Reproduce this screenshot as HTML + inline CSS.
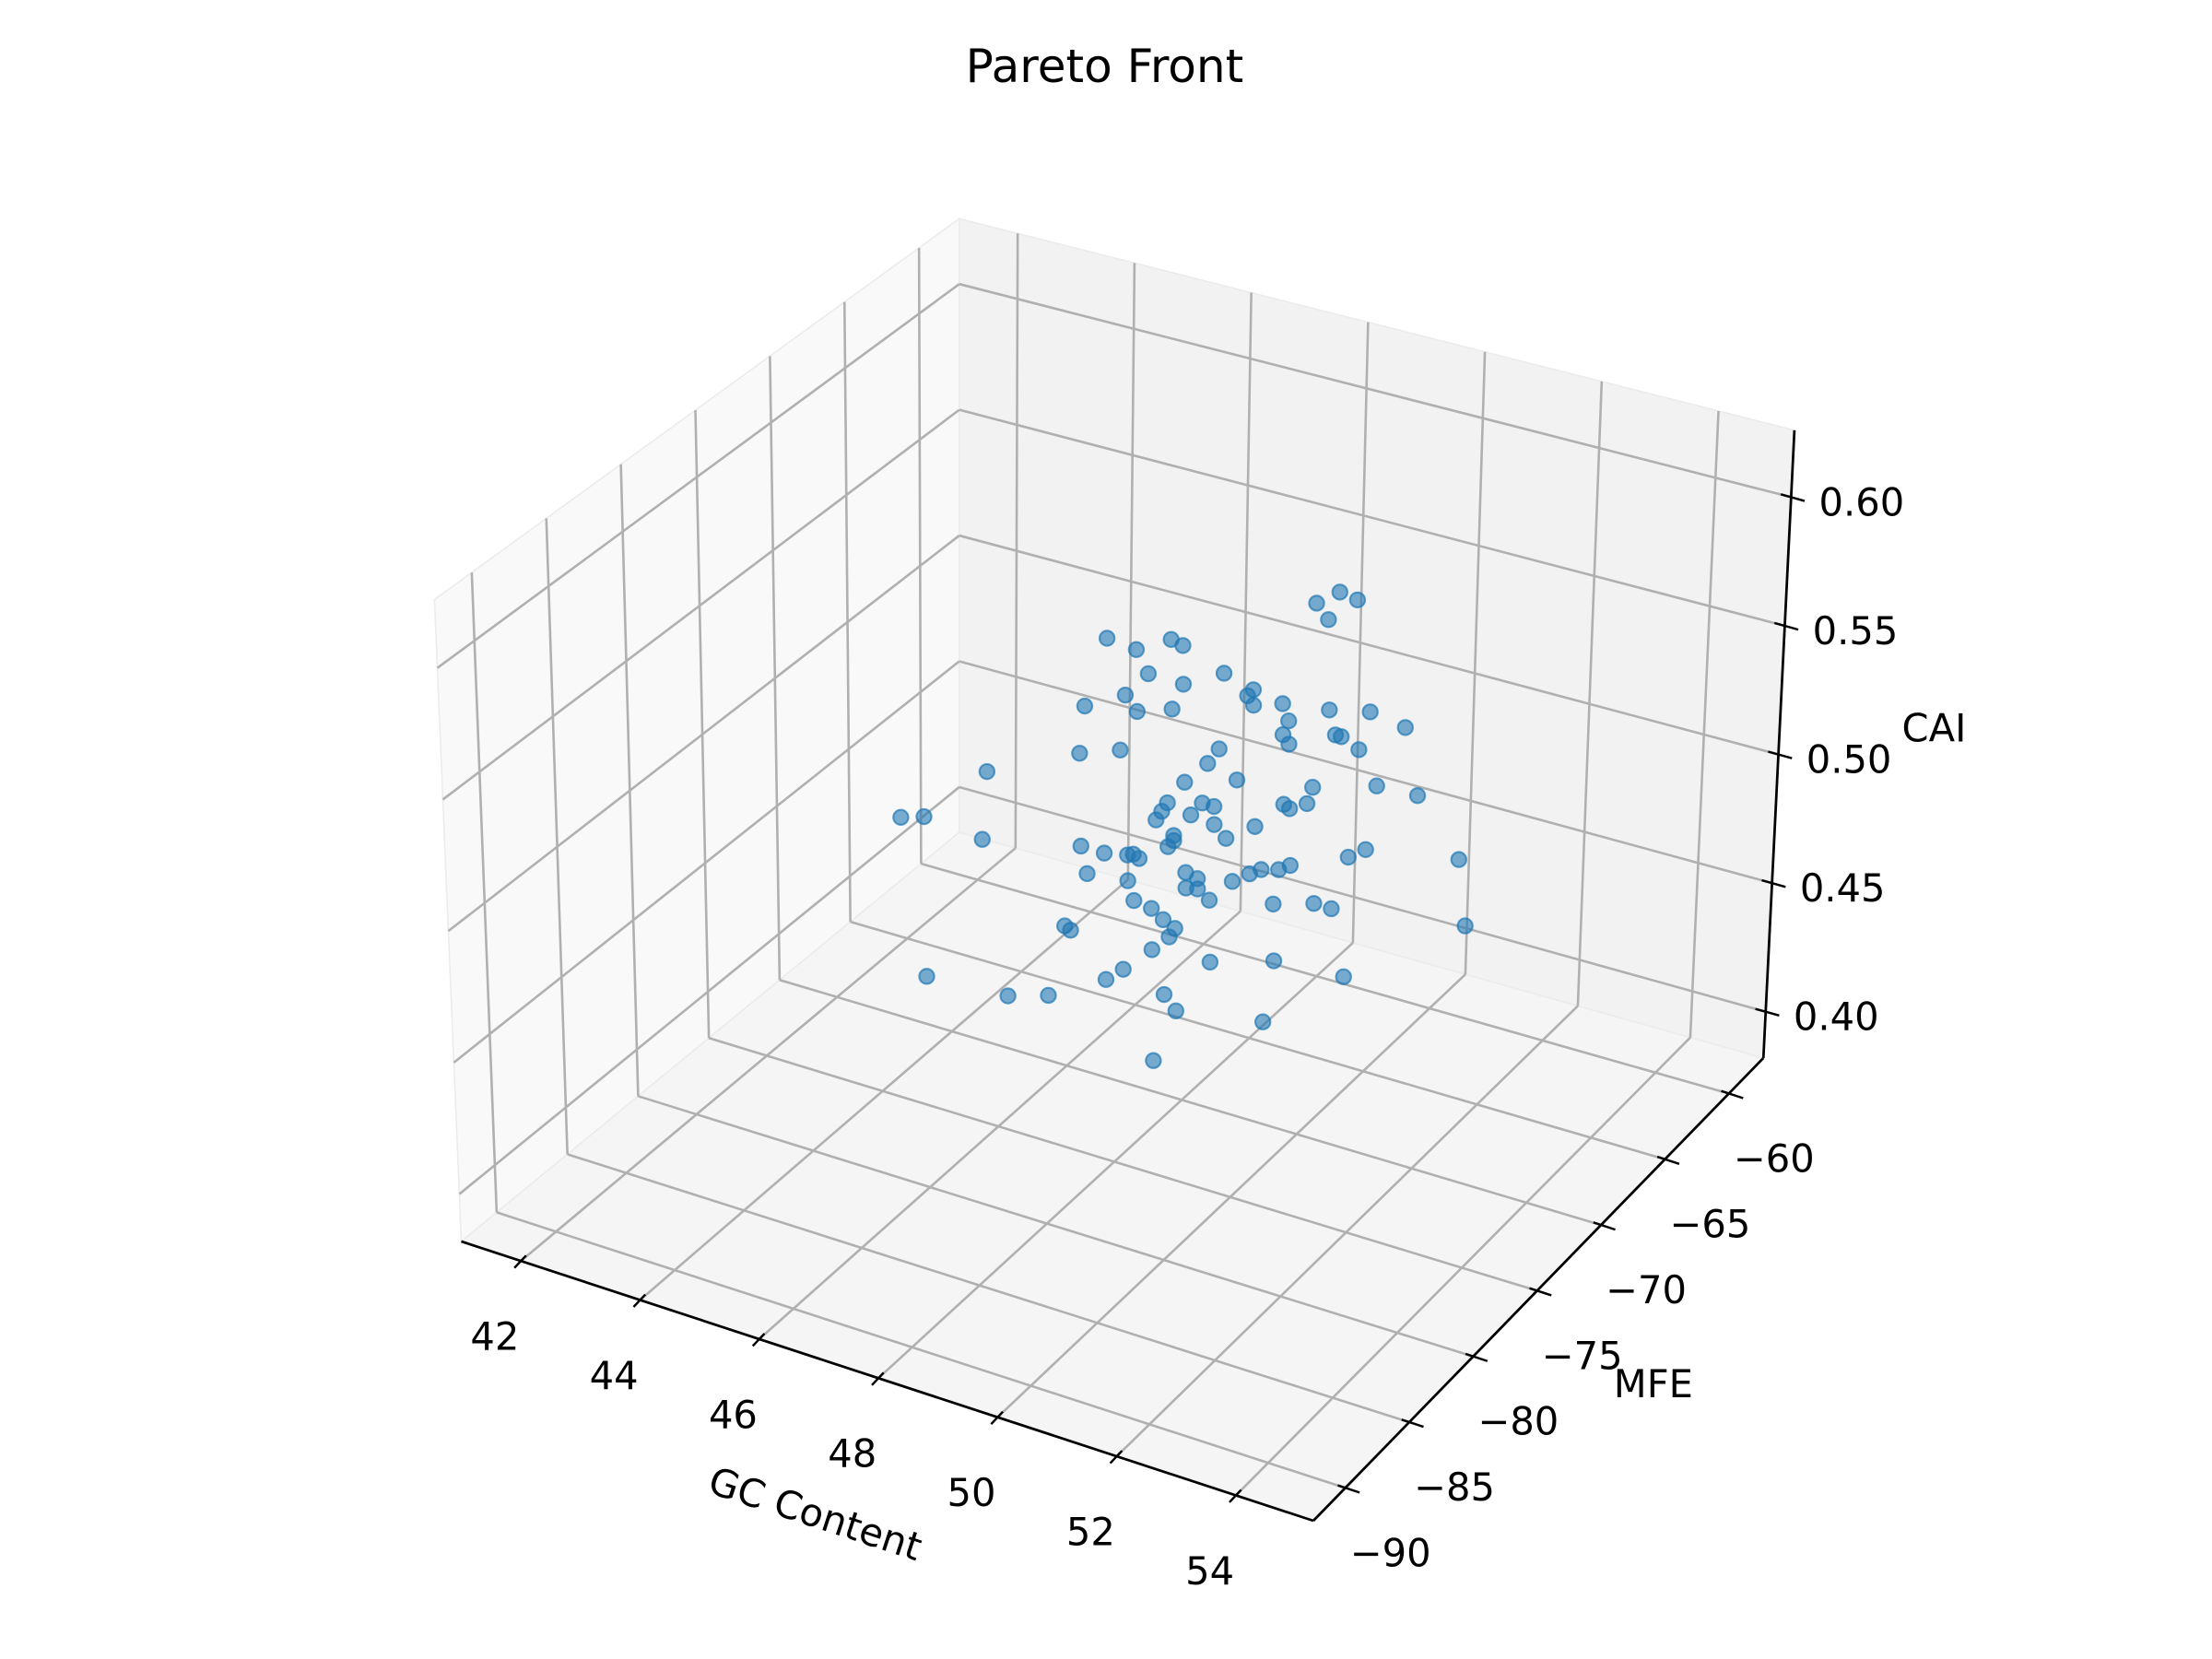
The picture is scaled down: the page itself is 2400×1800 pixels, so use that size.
<!DOCTYPE html>
<html><head><meta charset="utf-8"><title>Pareto Front</title>
<style>
html,body{margin:0;padding:0;background:#fff;}
svg{display:block;font-family:"DejaVu Sans","Liberation Sans",sans-serif;}
</style></head>
<body>
<svg id="chart" width="2400" height="1800" viewBox="0 0 1568 1176" xmlns="http://www.w3.org/2000/svg">
<rect x="0" y="0" width="1568" height="1176" fill="#ffffff"/>
<text x="783" y="47" font-size="32.7" text-anchor="middle" dominant-baseline="central" fill="#000">Pareto Front</text>
<g id="panes"></g>
<g id="grid"></g>
<g id="axes"></g>
<g id="points"></g>
<text x="578" y="1073" font-size="27.2" text-anchor="middle" dominant-baseline="central" transform="rotate(18.2 578 1073)">GC Content</text>
<text x="1172" y="981" font-size="27.2" text-anchor="middle" dominant-baseline="central">MFE</text>
<text x="1371" y="516" font-size="27.2" text-anchor="middle" dominant-baseline="central">CAI</text>
</svg>
<script>
const gcContent = [52.0,52.3,51.6,51.8,48.0,49.1,49.3,48.5,50.0,48.7,
49.3,50.5,50.4,48.3,51.0,47.6,50.5,49.1,48.5,51.8,
52.5,51.1,53.1,51.0,51.9,51.1,52.0,48.2,47.5,49.9,
52.3,49.7,45.9,50.2,49.3,52.6,51.5,53.3,49.6,49.0,
48.9,49.8,51.0,51.1,51.4,44.4,44.8,49.4,48.8,49.8,
50.5,49.1,50.0,49.1,45.8,47.5,49.0,47.9,48.3,48.4,
48.5,52.4,52.1,54.0,49.3,51.1,50.9,50.6,50.4,47.6,
49.5,48.3,50.1,49.3,49.5,49.7,48.4,48.7,50.8,51.5,
51.8,48.9,47.2,47.3,49.1,54.1,49.0,48.7,50.8,49.7,
48.2,47.9,44.8,52.0,46.2,46.9,48.9,49.1,50.6,48.7];
const mfeValues = [-75,-75,-75,-75,-75,-75,-75,-75,-75,-75,
-75,-75,-75,-75,-75,-75,-75,-75,-75,-75,
-75,-75,-75,-75,-75,-75,-75,-75,-75,-75,
-75,-75,-75,-75,-75,-75,-75,-75,-75,-75,
-75,-75,-75,-75,-75,-75,-75,-75,-75,-75,
-75,-75,-75,-75,-75,-75,-75,-75,-75,-75,
-75,-75,-75,-75,-75,-75,-75,-75,-75,-75,
-75,-75,-75,-75,-75,-75,-75,-75,-75,-75,
-75,-75,-75,-75,-75,-75,-75,-75,-75,-75,
-75,-75,-75,-75,-75,-75,-75,-75,-75,-75];
const caiValues = [0.630,0.629,0.623,0.618,0.585,0.592,0.591,0.584,0.585,0.576,
0.576,0.582,0.579,0.565,0.580,0.556,0.576,0.565,0.560,0.583,
0.587,0.574,0.585,0.568,0.574,0.565,0.574,0.543,0.537,0.555,
0.571,0.548,0.519,0.545,0.538,0.559,0.551,0.560,0.532,0.528,
0.524,0.532,0.541,0.540,0.544,0.491,0.494,0.526,0.520,0.525,
0.529,0.516,0.521,0.514,0.492,0.501,0.511,0.501,0.503,0.504,
0.503,0.533,0.528,0.540,0.503,0.518,0.515,0.513,0.510,0.491,
0.502,0.493,0.505,0.497,0.498,0.495,0.486,0.485,0.501,0.506,
0.506,0.482,0.468,0.467,0.480,0.515,0.476,0.469,0.479,0.471,
0.458,0.452,0.432,0.481,0.434,0.439,0.453,0.448,0.454,0.426];
const xTicks = [42,44,46,48,50,52,54];
const yTicks = [-90,-85,-80,-75,-70,-65,-60];
const zTicks = [0.40,0.45,0.50,0.55,0.60];
const xTickLabels = ["42","44","46","48","50","52","54"];
const yTickLabels = ["\u221290","\u221285","\u221280","\u221275","\u221270","\u221265","\u221260"];
const zTickLabels = ["0.40","0.45","0.50","0.55","0.60"];

const X0=41, X1=55.3, Y0=-92.5, Y1=-57.3, Z0=0.382, Z1=0.626;
const CB={A:[327,880],B:[931,1078],C:[1250,750],D:[680,590]};
const CT={A:[308,425],B:[904,629],C:[1272,305],D:[680,155]};
function bil(c,tx,ty){
  const w=[(1-tx)*(1-ty),tx*(1-ty),tx*ty,(1-tx)*ty];
  return [w[0]*c.A[0]+w[1]*c.B[0]+w[2]*c.C[0]+w[3]*c.D[0],
          w[0]*c.A[1]+w[1]*c.B[1]+w[2]*c.C[1]+w[3]*c.D[1]];
}
function proj(x,y,z){
  const tx=(x-X0)/(X1-X0), ty=(y-Y0)/(Y1-Y0), tz=(z-Z0)/(Z1-Z0);
  const b=bil(CB,tx,ty), t=bil(CT,tx,ty);
  return [b[0]+(t[0]-b[0])*tz, b[1]+(t[1]-b[1])*tz];
}
const NS="http://www.w3.org/2000/svg";
function mk(tag,attrs,parent){
  const e=document.createElementNS(NS,tag);
  for(const k in attrs) e.setAttribute(k,attrs[k]);
  parent.appendChild(e); return e;
}
function line(p,q,stroke,w,parent,name){
  const e=mk('line',{x1:p[0],y1:p[1],x2:q[0],y2:q[1],stroke:stroke,'stroke-width':w},parent);
  
  
  return e;
}
const panes=document.getElementById('panes');
function pane(pts,fill,name){
  const e=mk('polygon',{points:pts.map(p=>p.join(',')).join(' '),fill:fill,stroke:'#ebebeb','stroke-width':1},panes);
  
  
}
pane([proj(X0,Y0,Z0),proj(X0,Y1,Z0),proj(X0,Y1,Z1),proj(X0,Y0,Z1)],'#f9f9f9','left-pane');
pane([proj(X0,Y1,Z0),proj(X1,Y1,Z0),proj(X1,Y1,Z1),proj(X0,Y1,Z1)],'#f2f2f2','back-pane');
pane([proj(X0,Y0,Z0),proj(X1,Y0,Z0),proj(X1,Y1,Z0),proj(X0,Y1,Z0)],'#f5f5f5','floor-pane');

const grid=document.getElementById('grid');
const GC='#b0b0b0', GW=1.7;
xTicks.forEach(v=>{
  line(proj(v,Y0,Z0),proj(v,Y1,Z0),GC,GW,grid,'floor-gridline-x');
  line(proj(v,Y1,Z0),proj(v,Y1,Z1),GC,GW,grid,'back-gridline-x');
});
yTicks.forEach(v=>{
  line(proj(X0,v,Z0),proj(X1,v,Z0),GC,GW,grid,'floor-gridline-y');
  line(proj(X0,v,Z0),proj(X0,v,Z1),GC,GW,grid,'left-gridline-y');
});
zTicks.forEach(v=>{
  line(proj(X0,Y0,v),proj(X0,Y1,v),GC,GW,grid,'left-gridline-z');
  line(proj(X0,Y1,v),proj(X1,Y1,v),GC,GW,grid,'back-gridline-z');
});

const axes=document.getElementById('axes');
line(proj(X0,Y0,Z0),proj(X1,Y0,Z0),'#000',1.8,axes,'x-axis-line');
line(proj(X1,Y0,Z0),proj(X1,Y1,Z0),'#000',1.8,axes,'y-axis-line');
line(proj(X1,Y1,Z0),proj(X1,Y1,Z1),'#000',1.8,axes,'z-axis-line');
function label(p,txt,name){
  const t=mk('text',{x:p[0],y:p[1],'font-size':27.2,'text-anchor':'middle','dominant-baseline':'central',fill:'#000'},axes);
  t.textContent=txt;
  
  
}
xTicks.forEach((v,i)=>{
  const p=proj(v,Y0,Z0);
  line([p[0]-4.6,p[1]+4.9],[p[0]+3.7,p[1]-3.9],'#000',1.6,axes,'x-tick');
  label([p[0]-18.5,p[1]+53.5],xTickLabels[i],'x-tick-label');
});
yTicks.forEach((v,i)=>{
  const p=proj(X1,v,Z0);
  line([p[0]-5.4,p[1]-1.8],[p[0]+10.1,p[1]+3.3],'#000',1.6,axes,'y-tick');
  label([p[0]+32,p[1]+46],yTickLabels[i],'y-tick-label');
});
zTicks.forEach((v,i)=>{
  const p=proj(X1,Y1,v);
  line([p[0]-7.3,p[1]-2],[p[0]+9.6,p[1]+2.7],'#000',1.6,axes,'z-tick');
  label([p[0]+50,p[1]+3.5],zTickLabels[i],'z-tick-label');
});

const pts=document.getElementById('points');
gcContent.forEach((g,i)=>{
  const p=proj(g,mfeValues[i],caiValues[i]);
  const c=mk('circle',{cx:p[0],cy:p[1],r:5.3,fill:'#1f77b4','fill-opacity':0.6,stroke:'#1f77b4','stroke-opacity':0.7,'stroke-width':1.4},pts);
  
  
});
</script>
</body></html>
